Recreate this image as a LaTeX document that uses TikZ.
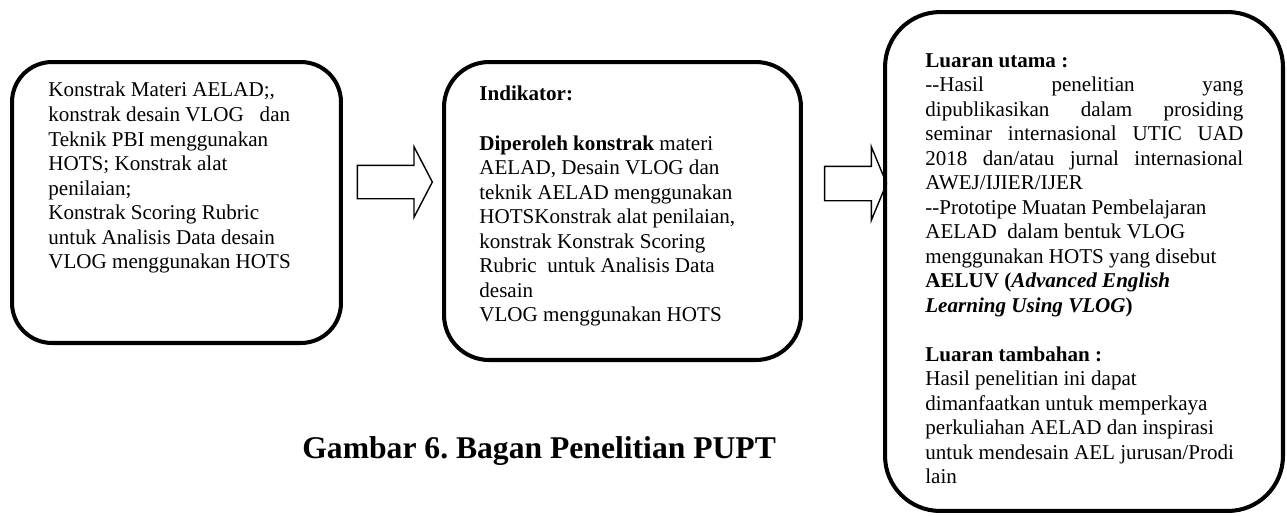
\documentclass[tikz,border=0pt]{standalone}
\usepackage{fontspec}
\setmainfont{Liberation Serif}
\usetikzlibrary{positioning,calc,shapes.arrows}

\newcommand{\jline}[1]{\makebox[6.36cm][s]{#1}}
\newcommand{\dd}{-\kern0pt-}

\begin{document}
\begin{tikzpicture}[
  x=0.02cm, y=-0.02cm,
  box/.style={draw, line width=2.3pt, inner sep=0pt},
  txt/.style={anchor=north west, inner sep=0pt, align=left,
              font={\fontsize{12pt}{13.95pt}\selectfont}},
  blockarr/.style={single arrow, draw, line width=0.8pt, inner xsep=0pt},
]
  \useasboundingbox (0,0) rectangle (1287,515);

  % the three boxes
  \node[box, rounded corners=0.8cm, minimum width=6.58cm, minimum height=5.62cm] (konstrak) at (176.5,202.5) {};
  \node[box, rounded corners=0.9cm, minimum width=7.14cm, minimum height=5.96cm] (indikator) at (622.5,211) {};
  \node[box, rounded corners=1.1cm, minimum width=7.96cm, minimum height=9.98cm] (luaran) at (1084,261.5) {};

  % texts
  \node[txt] (t1) at (48,82) {Konstrak Materi AELAD;,\\
    konstrak desain VLOG\ \ \ dan\\
    Teknik PBI menggunakan\\
    HOTS; Konstrak alat\\
    penilaian;\\
    Konstrak Scoring Rubric\\
    untuk Analisis Data desain\\
    VLOG menggunakan HOTS};

  \node[txt] (t2) at (479,86) {\textbf{Indikator:}\\[13.95pt]
    \textbf{Diperoleh konstrak} materi\\
    AELAD, Desain VLOG dan\\
    teknik AELAD menggunakan\\
    HOTSKonstrak alat penilaian,\\
    konstrak Konstrak Scoring\\
    Rubric\ \ untuk Analisis Data\\
    desain\\
    VLOG menggunakan HOTS};

  \node[txt] (t3) at (925,53) {\textbf{Luaran utama :}\\
    \jline{\dd Hasil penelitian yang}\\
    \jline{dipublikasikan dalam prosiding}\\
    \jline{seminar internasional UTIC UAD}\\
    \jline{2018 dan/atau jurnal internasional}\\
    AWEJ/IJIER/IJER\\
    \dd Prototipe Muatan Pembelajaran\\
    AELAD\ \ dalam bentuk VLOG\\
    menggunakan HOTS yang disebut\\
    \textbf{AELUV (\textit{Advanced English}}\\
    \textbf{\textit{Learning Using VLOG})}\\[13.95pt]
    \textbf{Luaran tambahan :}\\
    Hasil penelitian ini dapat\\
    dimanfaatkan untuk memperkaya\\
    perkuliahan AELAD dan inspirasi\\
    untuk mendesain AEL jurusan/Prodi\\
    lain};

  % block arrows
  \node[blockarr, inner ysep=0.32cm, minimum height=1.5cm,
        single arrow head extend=0.37cm, single arrow tip angle=125] (arr1) at (390.5,182) {};
  \node[blockarr, inner ysep=0.33cm, minimum height=1.24cm,
        single arrow head extend=0.39cm, single arrow tip angle=135] (arr2) at (852,183.5) {};

  % caption
  \node[anchor=base west, inner sep=0pt, font={\fontsize{18pt}{21pt}\selectfont\bfseries}] (gambar) at (302,458) {Gambar 6.\ Bagan Penelitian PUPT};
\end{tikzpicture}
\end{document}
